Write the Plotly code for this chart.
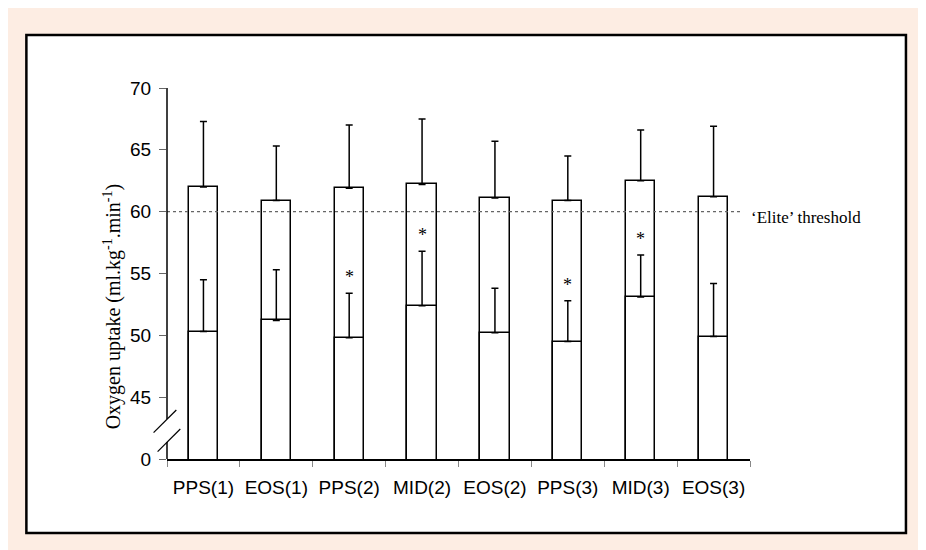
import plotly.graph_objects as go

# ---- data ----
categories = ["PPS(1)", "EOS(1)", "PPS(2)", "MID(2)", "EOS(2)", "PPS(3)", "MID(3)", "EOS(3)"]
upper_mean = [62.0, 60.9, 61.9, 62.2, 61.1, 60.9, 62.5, 61.2]
upper_sd = [5.3, 4.4, 5.1, 5.3, 4.6, 3.6, 4.1, 5.7]
lower_mean = [50.3, 51.2, 49.8, 52.4, 50.2, 49.5, 53.1, 49.9]
lower_sd = [4.2, 4.1, 3.6, 4.4, 3.6, 3.3, 3.4, 4.3]
significant = [False, False, True, True, False, True, True, False]
elite_threshold = 60
tick_values = [40, 45, 50, 55, 60, 65, 70]
tick_labels = ["0", "45", "50", "55", "60", "65", "70"]

SANS = "Liberation Sans, Arial, sans-serif"
SERIF = "Liberation Serif, Times New Roman, serif"

fig = go.Figure()
fig.add_trace(go.Bar(
    x=categories, y=upper_mean, width=0.4,
    marker=dict(color="white", line=dict(color="black", width=1.5)),
    error_y=dict(type="data", symmetric=False, array=upper_sd,
                 arrayminus=[0] * len(upper_sd), color="black",
                 thickness=1.5, width=3.5),
    showlegend=False,
))
fig.add_trace(go.Bar(
    x=categories, y=lower_mean, width=0.4,
    marker=dict(color="white", line=dict(color="black", width=1.5)),
    error_y=dict(type="data", symmetric=False, array=lower_sd,
                 arrayminus=[0] * len(lower_sd), color="black",
                 thickness=1.5, width=3.5),
    showlegend=False,
))

# significance stars
for cat, m, s, sig in zip(categories, lower_mean, lower_sd, significant):
    if sig:
        fig.add_annotation(x=cat, y=m + s, text="*", showarrow=False,
                           yshift=16, font=dict(family=SERIF, size=18, color="black"))

# elite threshold line and label
fig.add_shape(type="line", xref="paper", yref="y", x0=0, x1=0.988,
              y0=elite_threshold, y1=elite_threshold,
              line=dict(color="#666", width=1.2, dash="dot"), layer="above")
fig.add_annotation(xref="paper", yref="y", x=0.998, y=elite_threshold,
                   xanchor="left", yanchor="middle", yshift=-6, showarrow=False,
                   text="\u2018Elite\u2019 threshold",
                   font=dict(family=SERIF, size=17, color="black"))

# y-axis title
fig.add_annotation(xref="paper", yref="paper", x=-0.094, y=0.412, textangle=-90,
                   showarrow=False, xanchor="center", yanchor="middle",
                   text="Oxygen uptake (ml.kg<sup>-1</sup>.min<sup>-1</sup>)",
                   font=dict(family=SERIF, size=20, color="black"))

# background panels
fig.add_shape(type="rect", xref="paper", yref="paper",
              x0=-0.2772, x1=1.3017, y0=-0.2453, y1=1.2156,
              fillcolor="#FDEDE3", line=dict(width=0), layer="below")
fig.add_shape(type="rect", xref="paper", yref="paper",
              x0=-0.2412, x1=1.2675, y0=-0.1995, y1=1.1429,
              fillcolor="white", line=dict(color="black", width=2.5), layer="below")

# broken y axis line and break marks
for y0, y1 in [(1.0, 0.1078), (0.0458, 0.0)]:
    fig.add_shape(type="line", xref="paper", yref="paper", x0=0, x1=0, y0=y0, y1=y1,
                  line=dict(color="black", width=1.5), layer="above")
for x0, y0, x1, y1 in [(-0.023, 0.0709, 0.016, 0.1321), (-0.0161, 0.0197, 0.0228, 0.0809)]:
    fig.add_shape(type="line", xref="paper", yref="paper", x0=x0, y0=y0, x1=x1, y1=y1,
                  line=dict(color="black", width=1.2), layer="above")

fig.update_layout(
    width=926, height=550, autosize=False,
    margin=dict(l=159, r=184, t=80, b=99, pad=0),
    paper_bgcolor="white", plot_bgcolor="rgba(0,0,0,0)",
    barmode="overlay", bargap=0,
    xaxis=dict(type="category", range=[-0.5, 7.5], showline=True, linecolor="black",
               linewidth=1.5, ticks="outside", tickson="boundaries", ticklen=6,
               tickcolor="#888", tickwidth=1, showgrid=False, zeroline=False,
               ticklabelstandoff=10,
               tickfont=dict(family=SANS, size=19, color="black")),
    yaxis=dict(range=[40, 70], tickvals=tick_values, ticktext=tick_labels,
               ticks="outside", ticklen=7, tickcolor="#666", tickwidth=1,
               showline=False, showgrid=False, zeroline=False,
               ticklabelstandoff=4,
               tickfont=dict(family=SANS, size=19, color="black")),
)

fig.write_html("out.html")
